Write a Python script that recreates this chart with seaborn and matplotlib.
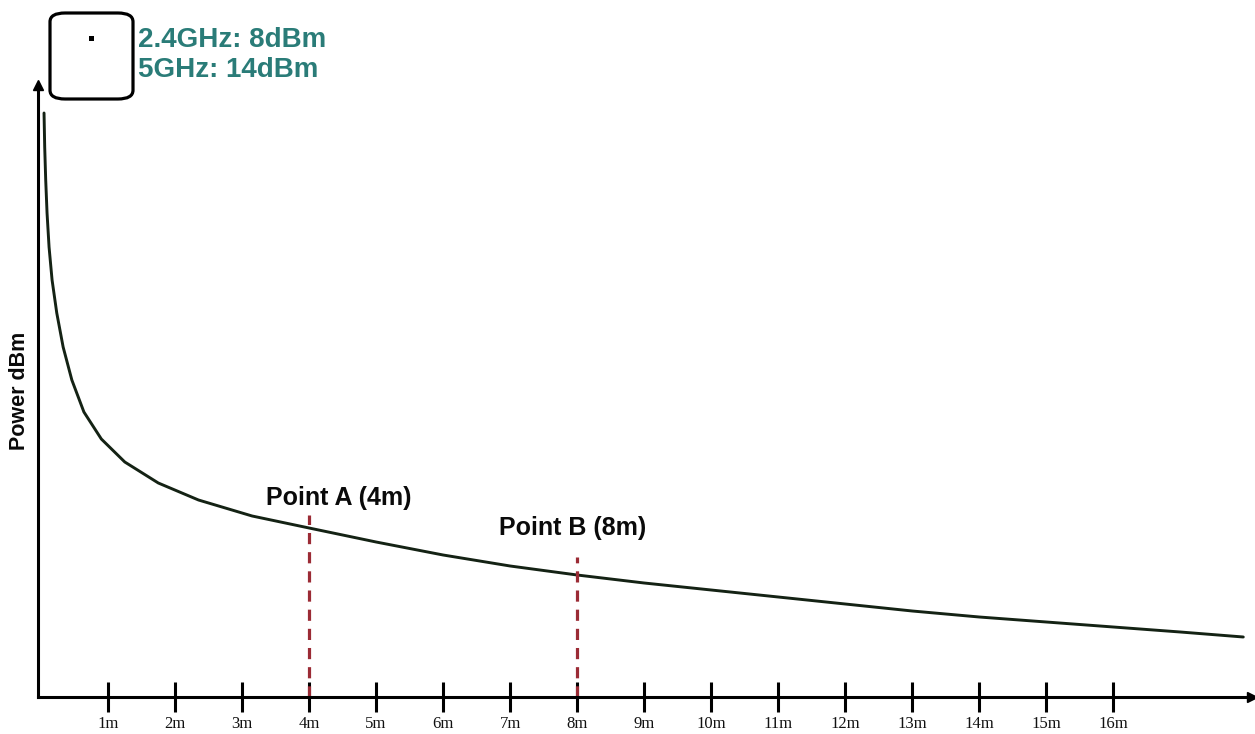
import matplotlib
matplotlib.use("Agg")
import matplotlib.pyplot as plt
from matplotlib.patches import FancyBboxPatch, Rectangle
import seaborn as sns
import pandas as pd

# distance (m) vs received power (relative units)
distance_m = [0.045, 0.055, 0.07, 0.09, 0.12, 0.165, 0.235, 0.33, 0.46, 0.64,
              0.9, 1.25, 1.75, 2.35, 3.15, 4.0, 5.0, 6.0, 7.0, 8.0,
              9.0, 10.0, 11.0, 12.0, 13.0, 14.0, 15.0, 16.0, 17.0, 17.94]
power_rel = [584, 550, 517, 484, 450, 417, 384, 350, 317, 285,
             258, 235, 214, 197, 181, 169, 155, 142, 131, 122,
             114, 107, 100, 93, 86, 80, 75, 70, 65, 60]

tick_pos = list(range(1, 17))
tick_labels = [f"{i}m" for i in tick_pos]

marker_x = [4, 8]
marker_top = [182, 140]
marker_labels = ["Point A (4m)", "Point B (8m)"]

legend_lines = ["2.4GHz: 8dBm", "5GHz: 14dBm"]

df = pd.DataFrame({"distance": distance_m, "power": power_rel})

sns.set_theme(style="white")
plt.rcParams["font.family"] = ["Liberation Sans", "DejaVu Sans"]

W, H = 1255, 734
fig = plt.figure(figsize=(W / 100, H / 100), dpi=100)
ax = fig.add_axes([38 / W, 37 / H, (1252 - 38) / W, (697 - 85) / H])

sns.lineplot(data=df, x="distance", y="power", ax=ax, color="#142214",
             linewidth=2.1, legend=False)

ax.vlines(marker_x, 0, marker_top, colors="#9b2b35", linewidth=2.3,
          linestyles=(0, (3.5, 2.5)))

ax.text(4.45, 199, marker_labels[0], ha="center", va="center",
        fontsize=18, fontweight="bold", color="#0a0a0a")
ax.text(7.93, 169, marker_labels[1], ha="center", va="center",
        fontsize=18, fontweight="bold", color="#0a0a0a")

ax.set_xlim(-0.045, 18.07)
ax.set_ylim(0, 612)

for s in ["top", "right"]:
    ax.spines[s].set_visible(False)
for s in ["left", "bottom"]:
    ax.spines[s].set_linewidth(2.2)
    ax.spines[s].set_color("black")

# arrow heads on the axes
ax.plot(1, 0, ">", color="black", markersize=7, transform=ax.transAxes, clip_on=False)
ax.plot(0, 1, "^", color="black", markersize=7, transform=ax.transAxes, clip_on=False)

ax.set_xticks(tick_pos)
ax.set_xticklabels(tick_labels, fontfamily="Liberation Serif", fontsize=12)
ax.tick_params(axis="x", bottom=True, direction="inout", length=22, width=2.2,
               color="black", labelcolor="#111111", pad=3)
ax.set_yticks([])
ax.set_xlabel("")
ax.set_ylabel("Power dBm", fontsize=15.5, fontweight="bold", labelpad=6,
              color="#0a0a0a")

# device icon and its legend text
box = FancyBboxPatch((50 / W, (H - 99) / H), 83 / W, 86 / H,
                     boxstyle="round,pad=0,rounding_size=0.012",
                     transform=fig.transFigure, facecolor="white",
                     edgecolor="black", linewidth=2.3, figure=fig)
fig.patches.append(box)
fig.patches.append(Rectangle((88.5 / W, (H - 41) / H), 5 / W, 5 / H,
                             transform=fig.transFigure, facecolor="black",
                             edgecolor="none", figure=fig))
fig.text(138 / W, (H - 40) / H, legend_lines[0], ha="left", va="center",
         fontsize=20, fontweight="bold", color="#2a7c78")
fig.text(138 / W, (H - 70) / H, legend_lines[1], ha="left", va="center",
         fontsize=20, fontweight="bold", color="#2a7c78")

fig.savefig("out.png", dpi=100)
